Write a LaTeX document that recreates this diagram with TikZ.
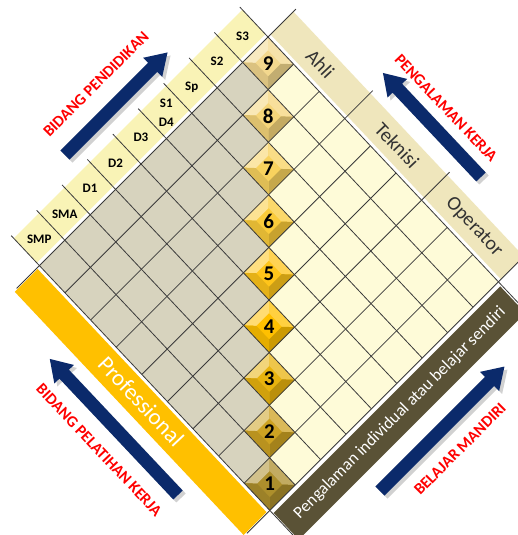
\documentclass[tikz,border=0pt]{standalone}
\usepackage{fontspec}
\setmainfont{Carlito}
\usetikzlibrary{calc}
\definecolor{cellgray}{HTML}{D7D3BE}
\definecolor{cellyel}{HTML}{FEFBD8}
\definecolor{bandyel}{HTML}{F9F3B6}
\definecolor{bandtan}{HTML}{EFE6BC}
\definecolor{bandgold}{HTML}{FFC000}
\definecolor{bandolive}{HTML}{5A5236}
\definecolor{navy}{HTML}{0B2A6B}
\definecolor{lbl}{HTML}{FF0000}
\definecolor{gridline}{HTML}{3A3A3A}
\definecolor{jobtext}{HTML}{333333}
\definecolor{gold1}{HTML}{AD8F2C}
\definecolor{gold2}{HTML}{CDA222}
\definecolor{gold3}{HTML}{E8B30E}
\definecolor{gold4}{HTML}{FFC000}
\definecolor{gold5}{HTML}{FFC51A}
\definecolor{gold6}{HTML}{FACB3A}
\definecolor{gold7}{HTML}{F8D25E}
\definecolor{gold8}{HTML}{F5D57A}
\definecolor{gold9}{HTML}{F3D88E}
\tikzset{
  pics/barrow/.style={code={
    \fill (0,-6.5) -- ({#1-21},-6.5) -- ({#1-21},-13.5) -- (#1,0) -- ({#1-21},13.5) -- ({#1-21},6.5) -- (0,6.5) -- cycle;}},
  gl/.style={draw=gridline, line width=0.8pt},
  edlbl/.style={font=\bfseries\fontsize{13}{19}\selectfont, text=black, inner sep=0pt, align=center},
  redlbl/.style={font=\bfseries\fontsize{16}{16}\selectfont, text=lbl, inner sep=0pt},
  numlbl/.style={font=\bfseries\fontsize{21}{21}\selectfont, text=black, inner sep=0pt},
  joblbl/.style={font=\fontsize{20}{20}\selectfont, text=jobtext, inner sep=0pt, rotate=-46.7},
  shadowarrow/.style={fill=black, opacity=0.18},
  mainarrow/.style={fill=navy},
}
\begin{document}
\begin{tikzpicture}[x=1pt,y=-1pt]
\useasboundingbox (0,0) rectangle (518,535);
\fill[white] (0,0) rectangle (518,535);

\begin{scope}[shift={(268,37)}]
\begin{scope}[x={(25.6pt,-27.2pt)}, y={(-25.4pt,-25.4pt)}]
  % bands
  \fill[bandyel] (-1,0) -- (-0.1,0) -- (-0.1,9) -- (-1,9) -- cycle;
  \fill[bandtan] (0,-1) -- (0,-0.1) -- (9,-0.1) -- (9,-1) -- cycle;
  \fill[bandgold] (0.03,9.1) -- (8.97,9.1) -- (8.97,10) -- (0.03,10) -- cycle;
  \fill[bandolive] (9.12,0.05) -- (10.1,0.05) -- (10.1,8.97) -- (9.12,8.97) -- cycle;
  % cells
  \foreach \i in {0,...,8}{\foreach \j in {0,...,8}{
    \ifnum\i>\j \fill[cellgray] (\j,\i) -- (\j+1,\i) -- (\j+1,\i+1) -- (\j,\i+1) -- cycle; \fi
    \ifnum\i<\j \fill[cellyel] (\j,\i) -- (\j+1,\i) -- (\j+1,\i+1) -- (\j,\i+1) -- cycle; \fi
  }}
  % level diamonds
  \foreach \k in {1,...,9}{
    \pgfmathtruncatemacro{\d}{9-\k}
    \fill[gold\k] (\d,\d) -- (\d+1,\d) -- (\d+1,\d+1) -- (\d,\d+1) -- cycle;
    \fill[gold\k!55!white] (\d,\d) -- (\d,\d+1) -- (\d+.25,\d+.75) -- (\d+.25,\d+.25) -- cycle;
    \fill[gold\k!75!white] (\d,\d) -- (\d+1,\d) -- (\d+.75,\d+.25) -- (\d+.25,\d+.25) -- cycle;
    \fill[gold\k!80!black] (\d+1,\d) -- (\d+1,\d+1) -- (\d+.75,\d+.75) -- (\d+.75,\d+.25) -- cycle;
    \fill[gold\k!90!black] (\d+1,\d+1) -- (\d,\d+1) -- (\d+.25,\d+.75) -- (\d+.75,\d+.75) -- cycle;
    \node[numlbl] (n\k) at (\d+.5,\d+.5) {\k};
  }
  % grid lines
  \foreach \i in {1,...,8}{\draw[gl] (-1.1,\i) -- (9,\i);}
  \draw[gl] (-1.1,0) -- (9.9,0);
  \draw[gl] (-1.1,9) -- (9.9,9);
  \draw[gl] (0,-1.1) -- (0,9.9);
  \draw[gl] (9,-1.1) -- (9,9.9);
  \foreach \j in {3,6}{\draw[gl] (\j,-1.1) -- (\j,9);}
  \foreach \j in {1,2,4,5,7,8}{\draw[gl] (\j,0) -- (\j,9);}
  % education labels
  \foreach \i/\t/\n in {8/SMP/e1, 7/SMA/e2, 6/D1/e3, 5/D2/e4, 4/D3/e5, 3/{S1\\D4}/e6, 2/Sp/e7, 1/S2/e8, 0/S3/e9}{
    \node[edlbl] (\n) at (-0.5,\i+0.5) {\t};
  }
  % job labels
  \node[joblbl] (ahli) at (1.5,-0.55) {Ahli};
  \node[joblbl] (tek) at (4.5,-0.55) {Teknisi};
  \node[joblbl] (opr) at (7.5,-0.55) {Operator};
  % bottom bands text
  \node[font=\fontsize{23}{23}\selectfont, text=white, rotate=-46.7, inner sep=0pt] (prof) at (4.5,9.53) {Professional};
  \node[font=\fontsize{17}{17}\selectfont, text=white, rotate=45, inner sep=0pt] (indiv) at (9.62,4.5) {Pengalaman individual atau belajar sendiri};
\end{scope}
\end{scope}

% arrows (shadows then arrows)
\pic[shadowarrow, rotate=45] at (68,158) {barrow=145};
\pic[mainarrow, rotate=45] at (65,155) {barrow=145};
\pic[shadowarrow, rotate=133.3] at (484,180) {barrow=143};
\pic[mainarrow, rotate=133.3] at (481,177) {barrow=143};
\pic[shadowarrow, rotate=133.3] at (181,498) {barrow=187};
\pic[mainarrow, rotate=133.3] at (178,495) {barrow=187};
\pic[shadowarrow, rotate=45] at (383,494) {barrow=176};
\pic[mainarrow, rotate=45] at (380,491) {barrow=176};

% red labels
\node[redlbl, rotate=45] (lA) at (96,84) {BIDANG PENDIDIKAN};
\node[redlbl, rotate=-46.7] (lB) at (446,108) {PENGALAMAN KERJA};
\node[redlbl, rotate=-46.7] (lC) at (99,450) {BIDANG PELATIHAN KERJA};
\node[redlbl, rotate=45] (lD) at (460,449) {BELAJAR MANDIRI};
\end{tikzpicture}
\end{document}
